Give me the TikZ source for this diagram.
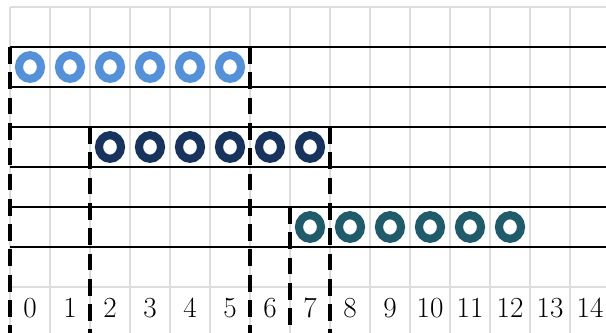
\documentclass[tikz,border=0pt]{standalone}
\usetikzlibrary{shapes.geometric}
\definecolor{sky}{RGB}{85,145,216}
\definecolor{navy}{RGB}{24,52,94}
\definecolor{pine}{RGB}{31,91,106}
\definecolor{gridgray}{RGB}{221,221,221}
\tikzset{
  cell/.style={draw=gridgray,line width=1pt},
  lane/.style={draw=black,line width=1.8pt},
  cut/.style={draw=black,line width=2.4pt,dash pattern=on 12pt off 6pt},
  ring/.style={ellipse,draw=#1,line width=5.8pt,minimum width=5.5mm,
    minimum height=5.9mm,inner sep=0pt,outer sep=0pt},
  ring/.default=sky,
  tick/.style={font=\huge,inner sep=0pt},
}

\begin{document}
\begin{tikzpicture}
  \useasboundingbox (-0.25,-0.15) rectangle (14.9,8.175);
  \clip (-0.25,-0.15) rectangle (14.9,8.175);
  % grid
  \foreach \x in {0,...,15} \draw[cell] (\x,-0.5) -- (\x,8);
  \foreach \y in {1,...,8} \draw[cell] (0,\y) -- (15,\y);
  % lanes
  \foreach \y in {2,...,7} \draw[lane] (0,\y) -- (15,\y);
  \foreach \x in {0,...,14} \node[tick] (n\x) at (\x+0.5,0.475) {\x};
  % rings
  \foreach \s/\y/\c/\r in {0/6.5/sky/a,2/4.5/navy/b,7/2.5/pine/c}{
    \foreach \i in {0,...,5}
      \node[ring=\c] (\r\i) at (\s+\i+0.5,\y) {};
  }
  % cuts
  \foreach \x/\y in {0/7,6/7,2/5,8/5,7/3}
    \draw[cut] (\x,\y) -- (\x,-0.5);
\end{tikzpicture}
\end{document}
